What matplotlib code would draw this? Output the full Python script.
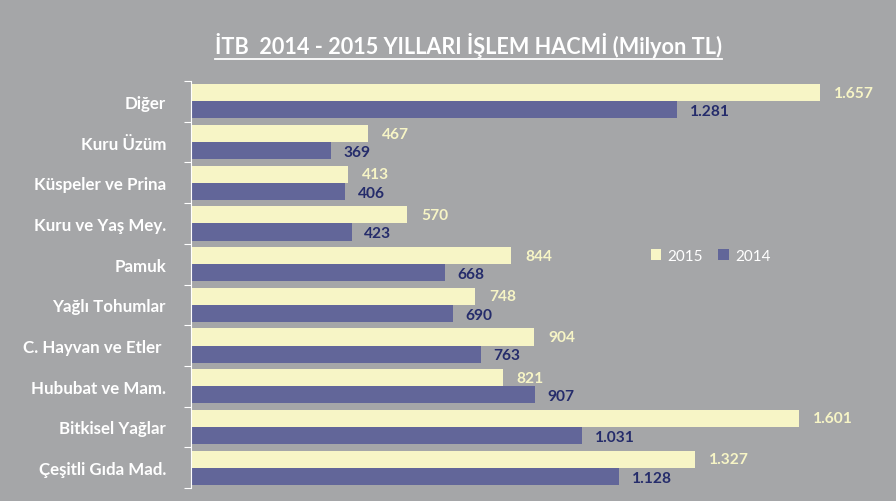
import matplotlib
matplotlib.use("Agg")
import matplotlib.pyplot as plt
import numpy as np
from matplotlib.lines import Line2D

categories = ["Diğer", "Kuru Üzüm", "Küspeler ve Prina", "Kuru ve Yaş Mey.", "Pamuk",
              "Yağlı Tohumlar", "C. Hayvan ve Etler ", "Hububat ve Mam.", "Bitkisel Yağlar",
              "Çeşitli Gıda Mad."]
v2015 = [1657, 467, 413, 570, 844, 748, 904, 821, 1601, 1327]
v2014 = [1281, 369, 406, 423, 668, 690, 763, 907, 1031, 1128]

BG = "#A5A6A8"
C15 = "#F7F5C6"
C14 = "#626699"
T14 = "#252C6B"
FONT = ["Lato", "DejaVu Sans"]
plt.rcParams['font.family'] = FONT

fig = plt.figure(figsize=(8.96, 5.02), dpi=100)
fig.patch.set_facecolor(BG)
W, H = 896, 502
ax = fig.add_axes([191 / W, 1 - 489 / H, (876 - 191) / W, (489 - 82) / H])
ax.set_facecolor(BG)

n = len(categories)
y = np.arange(n)
h = 0.42
ax.barh(y - h / 2, v2015, height=h, color=C15, label="2015")
ax.barh(y + h / 2, v2014, height=h, color=C14, label="2014")

fmt = lambda v: f"{v:,}".replace(",", ".")
for yi, a, b in zip(y, v2015, v2014):
    ax.annotate(fmt(a), (a, yi - h / 2), xytext=(10, 0), textcoords="offset points",
                ha="left", va="center", color=C15, fontsize=11.2, fontweight="bold")
    ax.annotate(fmt(b), (b, yi + h / 2), xytext=(9, -1), textcoords="offset points",
                ha="left", va="center", color=T14, fontsize=11.2, fontweight="bold")

ax.set_ylim(n - 0.5, -0.5)
ax.set_xlim(0, 1805)
ax.set_yticks(y)
ax.set_yticklabels(categories, color="white", fontsize=12.2, fontweight="bold")
ax.tick_params(axis="y", which="major", length=0, pad=18)
ax.set_yticks(np.arange(-0.5, n, 1), minor=True)
ax.tick_params(axis="y", which="minor", length=5, color="white", width=0.8)
ax.set_xticks([])
for s in ["top", "right", "bottom"]:
    ax.spines[s].set_visible(False)
ax.spines["left"].set_color("white")
ax.spines["left"].set_linewidth(0.8)

leg = ax.legend(loc="upper left", bbox_to_anchor=((637 - 191) / (876 - 191), 1 - (236 - 82) / (489 - 82)),
                ncol=2, frameon=False, fontsize=11, handlelength=0.7, handleheight=0.7,
                columnspacing=1.0, handletextpad=0.4, labelcolor="white")

t = fig.text(468 / W, 1 - 45 / H, "İTB  2014 - 2015 YILLARI İŞLEM HACMİ (Milyon TL)",
             ha="center", va="center", color="white", fontsize=15.6, fontweight="bold")
fig.canvas.draw()
bb = t.get_window_extent()
uy = bb.y0 - 2
fig.add_artist(Line2D([bb.x0 / W, bb.x1 / W], [uy / H, uy / H], color="white", lw=1.3,
                      transform=fig.transFigure))

fig.savefig("out.png", dpi=100, facecolor=BG)
